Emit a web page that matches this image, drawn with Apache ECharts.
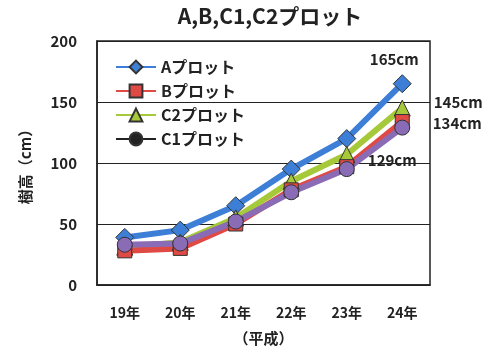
<!DOCTYPE html>
<html><head><meta charset="utf-8">
<script src="https://cdn.jsdelivr.net/npm/echarts@6/dist/echarts.min.js"></script>
<style>html,body{margin:0;padding:0;background:#fff}#c{width:497px;height:354px}</style>
</head><body><div id="c"></div>
<script>
const categories = ['19年','20年','21年','22年','23年','24年'];
const seriesA  = [39, 45, 65, 95, 120, 165];
const seriesB  = [28, 30, 50, 78, 97, 134];
const seriesC2 = [31, 35, 55, 85, 107, 145];
const seriesC1 = [33, 34, 52, 76, 95, 129];
const yTicks = [0, 50, 100, 150, 200];

const FONT = '"Noto Sans CJK JP", "Noto Sans", sans-serif';
const chart = echarts.init(document.getElementById('c'));

function lastLabel(arr, pos, offset) {
  return arr.map((v, i) => i === arr.length - 1 ? {
    value: v,
    label: { show: true, position: pos, offset: offset, formatter: '{c}cm',
      fontFamily: FONT, fontWeight: 'bold', fontSize: 15, color: '#222' }
  } : v);
}

function mk(name, data, color, symbol, size) {
  return {
    name, type: 'line', data, symbol, symbolSize: size,
    lineStyle: { width: 6, color },
    itemStyle: { color, borderColor: '#333', borderWidth: 1 },
    emphasis: { disabled: true }, animation: false
  };
}

chart.setOption({
  animation: false,
  title: { text: 'A,B,C1,C2プロット', left: 265, top: 1, textAlign: 'center',
    textStyle: { fontFamily: FONT, fontWeight: 'bold', fontSize: 21, color: '#222' } },
  grid: { left: 97, right: 67, top: 41, bottom: 69 },
  legend: {
    left: 110, top: 54, orient: 'vertical', itemGap: 8, itemWidth: 40, itemHeight: 16,
    textStyle: { fontFamily: FONT, fontWeight: 'bold', fontSize: 16, color: '#222' },
    data: [
      { name: 'Aプロット', lineStyle: { width: 2 } },
      { name: 'Bプロット', lineStyle: { width: 2 } },
      { name: 'C2プロット', lineStyle: { width: 2 } },
      { name: 'C1プロット', itemStyle: { color: '#222' }, lineStyle: { width: 2, color: '#222' } }
    ]
  },
  xAxis: {
    type: 'category', data: categories, boundaryGap: true,
    name: '（平成）', nameLocation: 'middle', nameGap: 46,
    nameTextStyle: { fontFamily: FONT, fontWeight: 'bold', fontSize: 15, color: '#222' },
    axisLine: { lineStyle: { color: '#222', width: 1.5 } },
    axisTick: { inside: true, length: 6, lineStyle: { color: '#222' } },
    axisLabel: { margin: 21, fontFamily: FONT, fontWeight: 'bold', fontSize: 14, color: '#222' }
  },
  yAxis: {
    type: 'value', min: yTicks[0], max: yTicks[yTicks.length - 1], interval: 50,
    name: '樹高（cm）', nameLocation: 'middle', nameGap: 64,
    nameTextStyle: { fontFamily: FONT, fontWeight: 'bold', fontSize: 15, color: '#222' },
    axisLine: { show: true, lineStyle: { color: '#222', width: 1.5 } },
    axisTick: { show: false },
    splitLine: { lineStyle: { color: '#222', width: 1.2 } },
    axisLabel: { margin: 20, fontFamily: FONT, fontWeight: 'bold', fontSize: 15, color: '#222' }
  },
  graphic: [{ type: 'rect', shape: { x: 97, y: 41, width: 333, height: 244 },
    style: { fill: 'none', stroke: '#222', lineWidth: 1.5 }, z: 1 }],
  series: [
    mk('Aプロット', lastLabel(seriesA, 'top', [-8, -2]), '#3d7fd6', 'diamond', 18),
    mk('C2プロット', lastLabel(seriesC2, 'right', [18, -6]), '#a6c93a', 'triangle', 16),
    mk('Bプロット', lastLabel(seriesB, 'right', [18, 2]), '#e04a45', 'rect', 14),
    mk('C1プロット', lastLabel(seriesC1, 'bottom', [-10, 12]), '#8a6bb5', 'circle', 15)
  ]
});
</script></body></html>
